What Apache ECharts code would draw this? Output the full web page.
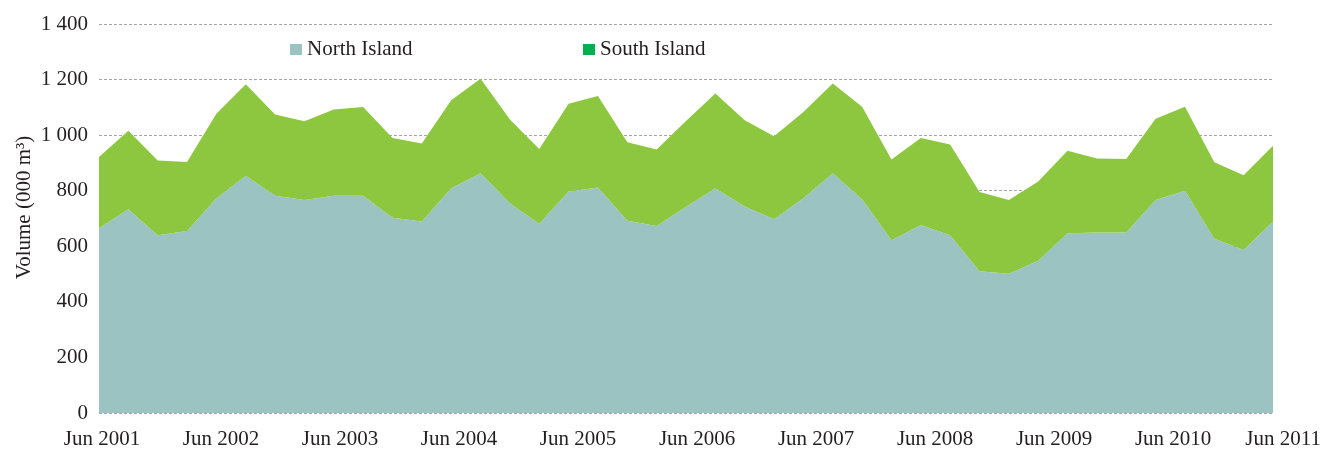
<!DOCTYPE html>
<html>
<head>
<meta charset="utf-8">
<script src="https://cdn.jsdelivr.net/npm/echarts@6/dist/echarts.min.js"></script>
<style>
html,body{margin:0;padding:0;background:#fff;}
#chart{width:1324px;height:450px;}
</style>
</head>
<body>
<div id="chart"></div>
<script>
// Quarterly categories (Jun 2001 - Jun 2011)
const categories = [
  'Jun 2001','Sep 2001','Dec 2001','Mar 2002','Jun 2002','Sep 2002','Dec 2002','Mar 2003',
  'Jun 2003','Sep 2003','Dec 2003','Mar 2004','Jun 2004','Sep 2004','Dec 2004','Mar 2005',
  'Jun 2005','Sep 2005','Dec 2005','Mar 2006','Jun 2006','Sep 2006','Dec 2006','Mar 2007',
  'Jun 2007','Sep 2007','Dec 2007','Mar 2008','Jun 2008','Sep 2008','Dec 2008','Mar 2009',
  'Jun 2009','Sep 2009','Dec 2009','Mar 2010','Jun 2010','Sep 2010','Dec 2010','Mar 2011',
  'Jun 2011'
];
// Volume (000 m3)
const northIsland = [
  665,733,640,655,773,854,782,767,782,782,703,689,809,863,755,681,
  797,812,692,673,742,809,743,697,773,863,769,622,677,640,510,501,
  548,647,650,650,767,800,627,587,689
];
const southIsland = [
  256,283,269,248,304,329,292,283,310,319,287,281,317,340,301,269,
  316,329,282,275,309,341,311,299,310,323,333,290,313,326,285,266,
  285,297,266,264,292,302,275,269,273
];
const yearTickLabels = ['Jun 2001','Jun 2002','Jun 2003','Jun 2004','Jun 2005','Jun 2006',
  'Jun 2007','Jun 2008','Jun 2009','Jun 2010','Jun 2011'];
const yTicks = { min: 0, max: 1400, interval: 200 };

const FONT = '"Liberation Serif", "DejaVu Serif", serif';
const FS = 21;
const TXT = '#231F20';
const NORTH_COLOR = '#9BC3C1';
const SOUTH_COLOR = '#8DC63F';
const SOUTH_LEGEND = '#00B050';

function fmtThousands(v){
  if (v >= 1000) return Math.floor(v/1000) + ' ' + String(v % 1000).padStart(3,'0');
  return String(v);
}

const chart = echarts.init(document.getElementById('chart'), null, {renderer:'canvas'});
chart.setOption({
  animation: false,
  backgroundColor: '#fff',
  textStyle: { fontFamily: FONT, color: TXT },
  grid: [
    { left: 99, right: 51, top: 24, bottom: 37 },
    { left: 102, right: 31, top: 24, bottom: 37 }
  ],
  legend: [
    {
      left: 290, top: 39, padding: 0, icon: 'rect', itemWidth: 12, itemHeight: 11, itemGap: 0,
      selectedMode: false,
      textStyle: { fontFamily: FONT, fontSize: FS, color: TXT },
      data: [{ name: 'North Island', itemStyle: { color: NORTH_COLOR } }]
    },
    {
      left: 583, top: 39, padding: 0, icon: 'rect', itemWidth: 12, itemHeight: 11, itemGap: 0,
      selectedMode: false,
      textStyle: { fontFamily: FONT, fontSize: FS, color: TXT },
      data: [{ name: 'South Island', itemStyle: { color: SOUTH_LEGEND } }]
    }
  ],
  xAxis: [
    {
      type: 'category', gridIndex: 0, data: categories, boundaryGap: false,
      axisLine: { show: false }, axisTick: { show: false }, axisLabel: { show: false },
      splitLine: { show: false }
    },
    {
      type: 'category', gridIndex: 1, data: yearTickLabels, boundaryGap: false,
      axisLine: { show: false }, axisTick: { show: false }, splitLine: { show: false },
      axisLabel: {
        show: true, interval: 0, margin: 17, fontFamily: FONT, fontSize: FS, color: TXT,
        formatter: function(v, i){ return i === yearTickLabels.length - 1 ? '{last|' + v + '}' : v; },
        rich: { last: { fontFamily: FONT, fontSize: FS, color: TXT, padding: [0, 18, 0, 0] } }
      }
    }
  ],
  yAxis: [
    {
      type: 'value', gridIndex: 0, min: yTicks.min, max: yTicks.max, interval: yTicks.interval,
      name: 'Volume (000 m³)', nameLocation: 'middle', nameGap: 64, nameRotate: 90,
      nameMoveOverlap: false,
      nameTextStyle: { fontFamily: FONT, fontSize: FS, color: TXT, padding: [0, 0, 0, 22] },
      axisLine: { show: false }, axisTick: { show: false },
      axisLabel: { margin: 11, fontFamily: FONT, fontSize: FS, color: TXT, formatter: fmtThousands },
      splitLine: { show: true, lineStyle: { color: '#A6A6A6', width: 1, type: [3, 2] } }
    },
    {
      type: 'value', gridIndex: 1, min: 0, max: 1, show: false
    }
  ],
  series: [
    {
      name: 'North Island', type: 'line', stack: 'vol', xAxisIndex: 0, yAxisIndex: 0,
      data: northIsland, symbol: 'none', lineStyle: { width: 0 },
      itemStyle: { color: NORTH_COLOR },
      areaStyle: { color: NORTH_COLOR, opacity: 1 }
    },
    {
      name: 'South Island', type: 'line', stack: 'vol', xAxisIndex: 0, yAxisIndex: 0,
      data: southIsland, symbol: 'none', lineStyle: { width: 0 },
      itemStyle: { color: SOUTH_COLOR },
      areaStyle: { color: SOUTH_COLOR, opacity: 1 }
    }
  ]
});
</script>
</body>
</html>
